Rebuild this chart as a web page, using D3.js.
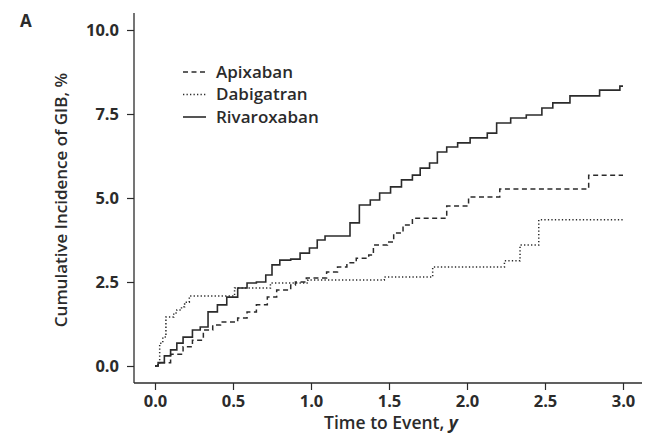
<!DOCTYPE html>
<html><head><meta charset="utf-8">
<script src="https://cdn.jsdelivr.net/npm/d3@7"></script>
<style>
html,body{margin:0;padding:0;background:#fff;}
svg{display:block;font-family:"Open Sans","DejaVu Sans",sans-serif;}
</style></head>
<body>
<svg id="chart" width="646" height="436"></svg>
<script>
// ---- data ----
const xTicks = [0, 0.5, 1.0, 1.5, 2.0, 2.5, 3.0];
const yTicks = [0, 2.5, 5.0, 7.5, 10.0];
const seriesNames = ["Apixaban", "Dabigatran", "Rivaroxaban"];

const apixTime = [0, 0.02, 0.10, 0.18, 0.24, 0.31, 0.37, 0.42, 0.53, 0.59, 0.65, 0.72, 0.78, 0.87, 0.90, 0.97, 1.10, 1.17, 1.23, 1.29, 1.37, 1.40, 1.49, 1.53, 1.59, 1.65, 1.87, 2.01, 2.21, 2.78, 3.0];
const apixVal  = [0, 0.10, 0.35, 0.57, 0.77, 1.07, 1.22, 1.31, 1.43, 1.61, 1.82, 2.05, 2.26, 2.41, 2.50, 2.62, 2.80, 2.95, 3.07, 3.21, 3.30, 3.60, 3.69, 3.96, 4.20, 4.40, 4.76, 5.03, 5.27, 5.68, 5.68];

const dabiTime = [0, 0.02, 0.03, 0.05, 0.07, 0.12, 0.14, 0.17, 0.19, 0.22, 0.51, 0.74, 0.98, 1.47, 1.78, 2.24, 2.34, 2.46, 3.0];
const dabiVal  = [0, 0.09, 0.68, 0.86, 1.46, 1.58, 1.67, 1.76, 1.90, 2.08, 2.32, 2.47, 2.56, 2.65, 2.95, 3.13, 3.60, 4.35, 4.35];

const rivaTime = [0, 0.02, 0.06, 0.10, 0.14, 0.18, 0.24, 0.29, 0.34, 0.40, 0.46, 0.53, 0.59, 0.65, 0.71, 0.75, 0.80, 0.87, 0.93, 0.99, 1.04, 1.09, 1.17, 1.25, 1.31, 1.38, 1.44, 1.51, 1.58, 1.65, 1.70, 1.76, 1.81, 1.87, 1.94, 2.02, 2.13, 2.19, 2.28, 2.38, 2.48, 2.55, 2.66, 2.85, 2.98, 3.0];
const rivaVal  = [0, 0.10, 0.30, 0.48, 0.68, 0.86, 1.07, 1.16, 1.61, 1.82, 2.05, 2.32, 2.47, 2.50, 2.71, 3.01, 3.15, 3.18, 3.36, 3.51, 3.75, 3.87, 3.87, 4.26, 4.79, 4.94, 5.15, 5.33, 5.54, 5.68, 5.89, 6.04, 6.37, 6.52, 6.64, 6.79, 6.93, 7.23, 7.38, 7.47, 7.68, 7.83, 8.04, 8.21, 8.33, 8.33];

// ---- layout ----
const svg = d3.select("#chart");
const ink = "#2b2b2b";
const x = d3.scaleLinear().domain([0, 3]).range([155, 623]);
const y = d3.scaleLinear().domain([0, 10]).range([366, 30]);
const axisLeftX = 134, axisBottomY = 383;

const series = [
  {name: seriesNames[0], t: apixTime, v: apixVal, dash: "5,3.5", width: 1.5},
  {name: seriesNames[1], t: dabiTime, v: dabiVal, dash: "1.3,2.2", width: 1.5},
  {name: seriesNames[2], t: rivaTime, v: rivaVal, dash: null, width: 1.6}
];

// axes
const gx = svg.append("g").attr("transform", `translate(0,${axisBottomY})`)
  .call(d3.axisBottom(x).tickValues(xTicks).tickFormat(d3.format(".1f")).tickSize(7).tickSizeOuter(0));
const gy = svg.append("g").attr("transform", `translate(${axisLeftX},0)`)
  .call(d3.axisLeft(y).tickValues(yTicks).tickFormat(d3.format(".1f")).tickSize(7).tickSizeOuter(0));
[gx, gy].forEach(g => {
  g.select(".domain").remove();
  g.selectAll(".tick line").attr("stroke", ink).attr("stroke-width", 1.2);
  g.selectAll(".tick text").attr("fill", ink).style("font-size", "16.5px").style("font-weight", 700)
    .style("font-family", '"Open Sans", sans-serif');
});
gx.selectAll(".tick text").attr("dy", "0.71em").attr("y", 12);
gy.selectAll(".tick text").attr("x", -15);
// axis lines
svg.append("line").attr("x1", axisLeftX).attr("x2", axisLeftX).attr("y1", 13).attr("y2", axisBottomY)
  .attr("stroke", ink).attr("stroke-width", 1.3);
svg.append("line").attr("x1", axisLeftX).attr("x2", 642).attr("y1", axisBottomY).attr("y2", axisBottomY)
  .attr("stroke", ink).attr("stroke-width", 1.3);

// curves
const line = d3.line().x(d => x(d[0])).y(d => y(d[1])).curve(d3.curveStepAfter);
series.forEach(s => {
  const pts = s.t.map((t, i) => [t, s.v[i]]);
  svg.append("path").datum(pts).attr("d", line).attr("fill", "none")
    .attr("stroke", ink).attr("stroke-width", s.width)
    .attr("stroke-dasharray", s.dash);
});

// titles
svg.append("text").attr("x", 391).attr("y", 429).attr("text-anchor", "middle")
  .attr("fill", ink).style("font-size", "17.5px").style("font-weight", 600)
  .html('Time to Event, <tspan font-style="italic" font-weight="700">y</tspan>');
svg.append("text").attr("transform", "translate(67,200) rotate(-90)").attr("text-anchor", "middle")
  .attr("fill", ink).style("font-size", "17px").style("font-weight", 600)
  .text("Cumulative Incidence of GIB, %");
svg.append("text").attr("x", 20).attr("y", 27).attr("fill", ink)
  .style("font-size", "17px").style("font-weight", 700).text("A");

// legend
const leg = svg.append("g");
series.forEach((s, i) => {
  const cy = 72 + i * 22.5;
  leg.append("line").attr("x1", 183).attr("x2", 206).attr("y1", cy).attr("y2", cy)
    .attr("stroke", ink).attr("stroke-width", s.width).attr("stroke-dasharray", s.dash);
  leg.append("text").attr("x", 216).attr("y", cy).attr("dy", "0.35em").attr("fill", ink)
    .style("font-size", "17px").style("font-weight", 600).text(s.name);
});
</script>
</body></html>
